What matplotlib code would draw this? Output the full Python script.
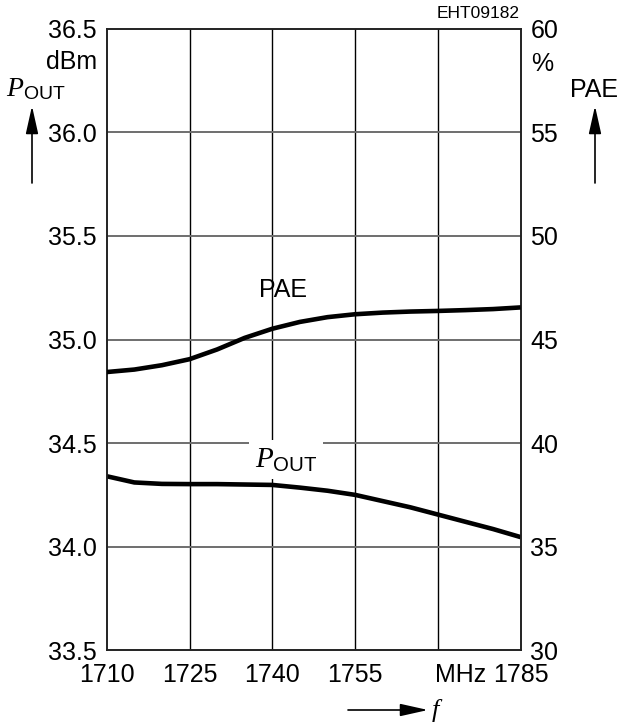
"""Output power and PAE versus frequency for the 1710-1785 MHz band."""

import matplotlib.pyplot as plt

plt.rcParams["font.family"] = ["Liberation Sans", "DejaVu Sans"]
plt.rcParams["mathtext.fontset"] = "custom"
plt.rcParams["mathtext.it"] = "Liberation Serif:italic"
plt.rcParams["mathtext.rm"] = "Liberation Sans"

freq_mhz = [1710, 1715, 1720, 1725, 1730, 1735, 1740, 1745,
            1750, 1755, 1760, 1765, 1770, 1775, 1780, 1785]
pout_dbm = [34.34, 34.31, 34.303, 34.302, 34.302, 34.30, 34.298, 34.285,
            34.27, 34.25, 34.22, 34.19, 34.155, 34.12, 34.085, 34.046]
pae_pct = [43.43, 43.55, 43.76, 44.05, 44.52, 45.08, 45.52, 45.85,
           46.08, 46.22, 46.30, 46.35, 46.38, 46.42, 46.47, 46.55]

x_ticks = [1710, 1725, 1740, 1755, 1770, 1785]
x_tick_labels = ["1710", "1725", "1740", "1755", "", "1785"]
pout_ticks = [33.5, 34.0, 34.5, 35.0, 35.5, 36.0, 36.5]
pae_ticks = [30, 35, 40, 45, 50, 55, 60]

FS = 18

fig = plt.figure(figsize=(6.19, 7.22), dpi=100)
ax = fig.add_axes([0.1724, 0.0994, 0.6688, 0.8607])
ax2 = ax.twinx()

ax.set_xlim(1710, 1785)
ax.set_ylim(33.5, 36.5)
ax2.set_ylim(30, 60)

# grid: vertical lines black, horizontal lines grey
for xv in x_ticks[1:-1]:
    ax.axvline(xv, color="black", linewidth=1.0, zorder=1)
for yv in pout_ticks[1:-1]:
    ax.axhline(yv, color="#6e6e6e", linewidth=1.4, zorder=1)

ax.plot(freq_mhz, pout_dbm, color="black", linewidth=3.3,
        solid_capstyle="butt", zorder=3)
ax2.plot(freq_mhz, pae_pct, color="black", linewidth=3.3,
         solid_capstyle="butt", zorder=3)

ax.set_xticks(x_ticks)
ax.set_xticklabels(x_tick_labels)
ax.set_yticks(pout_ticks)
ax.set_yticklabels([f"{v:.1f}" for v in pout_ticks])
ax2.set_yticks(pae_ticks)
ax2.set_yticklabels([str(v) for v in pae_ticks])

ax.tick_params(axis="both", length=0, labelsize=FS)
ax.tick_params(axis="x", pad=9)
ax.tick_params(axis="y", pad=7)
ax2.tick_params(axis="y", length=0, labelsize=FS, pad=7)

for a in (ax, ax2):
    for spine in a.spines.values():
        spine.set_color("#222222")
        spine.set_linewidth(1.2)

# unit placed just left of the last frequency label, on the same line
ax.annotate("MHz", xy=(1785, 0), xycoords=("data", "axes fraction"),
            xytext=(-25, -9), textcoords="offset points",
            fontsize=FS, ha="right", va="top", annotation_clip=False)

# curve labels
ax2.text(1742, 47.4, "PAE", fontsize=FS, ha="center", va="center", zorder=4)
ax.text(1742.5, 34.42, r"$P_{\mathrm{OUT}}$", fontsize=FS + 3,
        ha="center", va="center", zorder=4,
        bbox=dict(facecolor="white", edgecolor="none", pad=4))

# axis units and names
fig.text(97 / 619, 1 - 62 / 722, "dBm", fontsize=FS, ha="right", va="center")
fig.text(6 / 619, 1 - 89 / 722, r"$P_{\mathrm{OUT}}$", fontsize=FS + 2,
         ha="left", va="center")
fig.text(531 / 619, 1 - 64 / 722, "%", fontsize=FS, ha="left", va="center")
fig.text(594 / 619, 1 - 90 / 722, "PAE", fontsize=FS, ha="center",
         va="center")
fig.text(520 / 619, 1 - 14 / 722, "EHT09182", fontsize=12.5, ha="right",
         va="center")
fig.text(432 / 619, 1 - 711 / 722, "f", fontsize=FS + 1, style="italic",
         ha="left", va="center", family="Liberation Serif")

# arrows next to the axis names
arrow = dict(arrowstyle="-|>,head_length=1.7,head_width=0.38",
             color="black", linewidth=1.2, shrinkA=0, shrinkB=0)
arrow_ends = [
    ((32, 106), (32, 183)),
    ((595, 106), (595, 183)),
    ((428, 710), (348, 710)),
]
for (hx, hy), (tx, ty) in arrow_ends:
    ax.annotate("", xy=(hx / 619, 1 - hy / 722),
                xytext=(tx / 619, 1 - ty / 722),
                xycoords="figure fraction", textcoords="figure fraction",
                arrowprops=arrow, annotation_clip=False)

fig.savefig("out.png", dpi=100)
